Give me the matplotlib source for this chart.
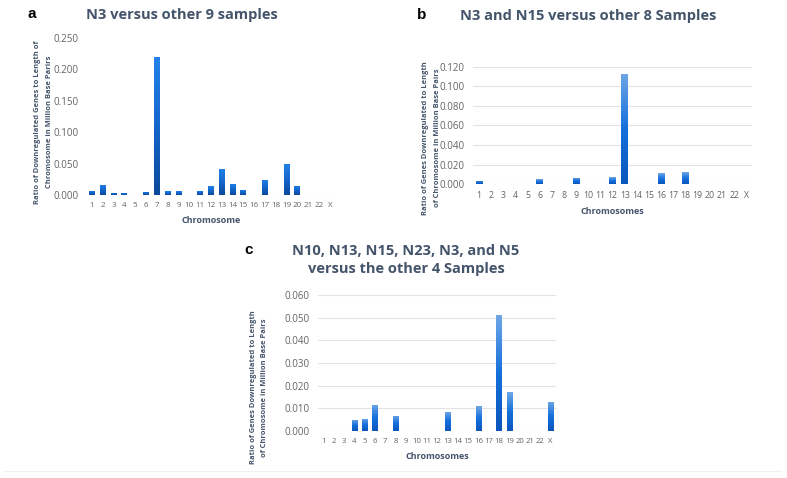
import numpy as np
import matplotlib.pyplot as plt
from matplotlib.colors import LinearSegmentedColormap
from matplotlib.lines import Line2D

chrom = [str(i) for i in range(1, 23)] + ['X']

# panel a: N3 versus other 9 samples
vals_a = [0.007, 0.016, 0.004, 0.004, 0.0, 0.005, 0.220, 0.006, 0.006, 0.0,
          0.0065, 0.014, 0.042, 0.018, 0.008, 0.0, 0.024, 0.0, 0.050, 0.015,
          0.0, 0.0, 0.0]
# panel b: N3 and N15 versus other 8
vals_b = [0.0035, 0.0, 0.0, 0.0, 0.0, 0.005, 0.0, 0.0, 0.0065, 0.0,
          0.0, 0.007, 0.113, 0.0, 0.0, 0.011, 0.0, 0.012, 0.0, 0.0,
          0.0, 0.0, 0.0]
# panel c: six samples versus other 4
vals_c = [0.0, 0.0, 0.0, 0.005, 0.0053, 0.0115, 0.0, 0.0067, 0.0, 0.0,
          0.0, 0.0, 0.0085, 0.0, 0.0, 0.011, 0.0, 0.051, 0.017, 0.0,
          0.0, 0.0, 0.013]

yt_a = [0, 0.05, 0.10, 0.15, 0.20, 0.25]
yt_b = [0, 0.02, 0.04, 0.06, 0.08, 0.10, 0.12]
yt_c = [0, 0.01, 0.02, 0.03, 0.04, 0.05, 0.06]

title_col = '#44546a'
tick_col = '#636363'
fam = ['Open Sans', 'DejaVu Sans']

cmap_a = LinearSegmentedColormap.from_list('ga', ['#0b4a9c', '#1466cc', '#2382ea'])
cmap_bc = LinearSegmentedColormap.from_list('gb', ['#0a56bc', '#1570dc', '#6ea6e6'])

fig = plt.figure(figsize=(7.87, 4.78), dpi=100)


def panel(rect, vals, yticks, cmap, grid, xlabel, ylabel, xfs, ylab_xy):
    ax = fig.add_axes(rect)
    x = np.arange(len(chrom))
    bars = ax.bar(x, vals, width=0.55, color='none', edgecolor='none', zorder=3)
    grad = np.linspace(0, 1, 64).reshape(-1, 1)
    for b in bars:
        if b.get_height() <= 0:
            continue
        x0, y0 = b.get_x(), b.get_y()
        im = ax.imshow(grad, extent=[x0, x0 + b.get_width(), y0, y0 + b.get_height()],
                       origin='lower', aspect='auto', cmap=cmap, zorder=3)
        im.set_clip_path(b)
    ax.set_xlim(-0.5, len(chrom) - 0.5)
    ax.set_ylim(0, yticks[-1])
    ax.set_xticks(x)
    ax.set_xticklabels(chrom)
    ax.set_yticks(yticks)
    ax.set_yticklabels(['%.3f' % t for t in yticks])
    for s in ax.spines.values():
        s.set_visible(False)
    if grid:
        ax.grid(axis='y', color='#e3e3e3', linewidth=0.8, zorder=0)
    else:
        ax.axhline(0, color='#ececec', linewidth=0.8, zorder=1)
    ax.tick_params(length=0, colors=tick_col)
    ax.tick_params(axis='x', labelsize=xfs, pad=5)
    ax.tick_params(axis='y', labelsize=7, pad=6)
    for lab in ax.get_xticklabels() + ax.get_yticklabels():
        lab.set_family(fam)
    ax.set_xlabel(xlabel, fontsize=6.5, color=title_col, fontweight='bold',
                  family=fam, labelpad=5)
    ax.set_ylabel(ylabel, fontsize=5.4, color=title_col, fontweight='bold',
                  family=fam, linespacing=1.9)
    ax.yaxis.set_label_coords(*ylab_xy)
    return ax


ax_a = panel([0.110, 0.592, 0.316, 0.329], vals_a, yt_a, cmap_a, False, 'Chromosome',
             'Ratio of Downregulated Genes to Length of\nChromosome in Million Base Parirs',
             5.8, (-0.135, 0.465))
ax_b = panel([0.601, 0.615, 0.355, 0.245], vals_b, yt_b, cmap_bc, True, 'Chromosomes',
             'Ratio of Genes Downregulated to Length\nof Chromosome in Million Base Pairs',
             6.3, (-0.115, 0.393))
ax_c = panel([0.4043, 0.0983, 0.302, 0.2845], vals_c, yt_c, cmap_bc, True, 'Chromosomes',
             'Ratio of Genes Downregulated to Length\nof Chromosome in Million Base Pairs',
             5.6, (-0.211, 0.32))

fig.text(182 / 787, 1 - 15 / 478, 'N3 versus other 9 samples', ha='center', va='center',
         fontsize=10.5, fontweight='bold', color=title_col, family='Open Sans')
fig.text(588 / 787, 1 - 16 / 478, 'N3 and N15 versus other 8 Samples', ha='center',
         va='center', fontsize=10.5, fontweight='bold', color=title_col, family='Open Sans')
fig.text(406 / 787, 1 - 260 / 478, 'N10, N13, N15, N23, N3, and N5\nversus the other 4 Samples',
         ha='center', va='center', fontsize=10.5, fontweight='bold', color=title_col,
         family='Open Sans', linespacing=1.3)

for lbl, px, py in [('a', 32, 14), ('b', 422, 15), ('c', 249, 250)]:
    fig.text(px / 787, 1 - py / 478, lbl, ha='center', va='center', fontsize=11,
             fontweight='bold', color='black', family='Liberation Sans')

fig.add_artist(Line2D([0.005, 0.992], [1 - 471 / 478, 1 - 471 / 478],
                      transform=fig.transFigure, color='#f0f0f0', linewidth=0.8))

fig.savefig('out.png', dpi=100)
